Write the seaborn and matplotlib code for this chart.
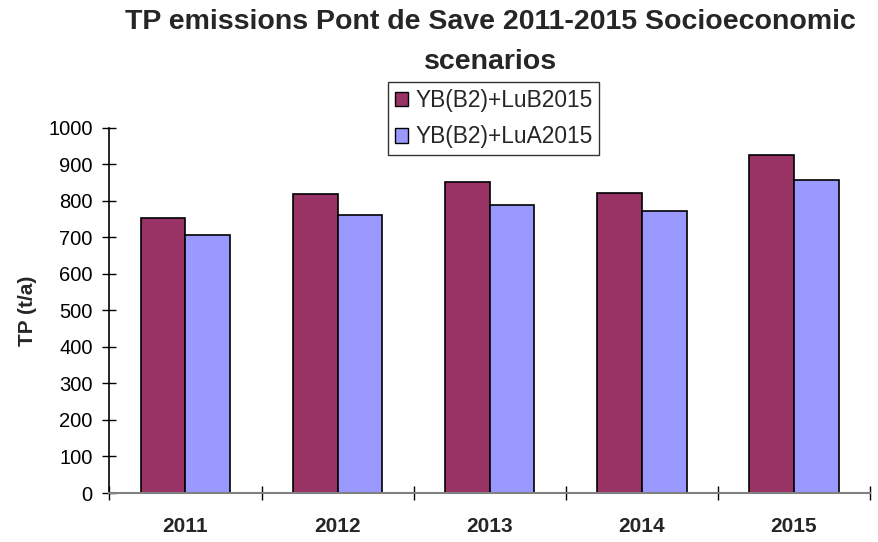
import matplotlib
matplotlib.use("Agg")
import matplotlib.pyplot as plt
import seaborn as sns
import pandas as pd
import numpy as np
from matplotlib.ticker import FixedLocator, NullFormatter

years = ["2011", "2012", "2013", "2014", "2015"]
series_names = ["YB(B2)+LuB2015", "YB(B2)+LuA2015"]
lub2015 = [753, 818, 851, 823, 925]
lua2015 = [706, 762, 790, 773, 856]
y_ticks = [0, 100, 200, 300, 400, 500, 600, 700, 800, 900, 1000]

df = pd.DataFrame({
    "year": years * 2,
    "TP": lub2015 + lua2015,
    "scenario": [series_names[0]] * len(years) + [series_names[1]] * len(years),
})

sns.set_theme(style="white")
plt.rcParams["font.family"] = ["Liberation Sans", "DejaVu Sans"]

fig = plt.figure(figsize=(8.79, 5.42), dpi=100)
ax = fig.add_axes([0.1245, 0.0904, 0.865, 0.6736])

sns.barplot(data=df, x="year", y="TP", hue="scenario", order=years,
            hue_order=series_names, palette=["#993366", "#9999FF"],
            width=0.59, edgecolor="black", linewidth=1.2, saturation=1,
            ax=ax, legend=True)

ax.set_ylim(0, 1000)
ax.set_xlim(-0.5, len(years) - 0.5)
ax.set_yticks(y_ticks)
ax.tick_params(axis="y", direction="inout", length=10, width=1, colors="black",
               labelsize=14.5, pad=7, left=True)

# category boundary ticks on the x axis, labels centred under each group
ax.xaxis.set_major_locator(FixedLocator(np.arange(-0.5, len(years), 1.0)))
ax.xaxis.set_major_formatter(NullFormatter())
ax.xaxis.set_minor_locator(FixedLocator(np.arange(len(years))))
ax.set_xticklabels(years, minor=True, fontweight="bold", fontsize=15)
ax.tick_params(axis="x", which="major", direction="inout", length=10,
               width=1, color="black", bottom=True)
ax.tick_params(axis="x", which="minor", length=0, pad=17, labelsize=15)

for side in ["top", "right"]:
    ax.spines[side].set_visible(False)
ax.spines["left"].set_color("black")
ax.spines["left"].set_linewidth(1.2)
ax.spines["bottom"].set_color("#808080")
ax.spines["bottom"].set_linewidth(1.5)

ax.set_xlabel("")
ax.set_ylabel("TP (t/a)", fontsize=15, fontweight="bold", labelpad=8)

ax.get_legend().remove()
handles = [plt.Rectangle((0, 0), 1, 1, facecolor=c, edgecolor="black", linewidth=1)
           for c in ["#993366", "#9999FF"]]
leg = fig.legend(handles, series_names, loc="upper left",
                 bbox_to_anchor=(388 / 879, 1 - 82 / 542), frameon=True,
                 fontsize=16.4, handlelength=0.6, handleheight=0.6,
                 handletextpad=0.3, borderpad=0.3, labelspacing=0.6,
                 fancybox=False, borderaxespad=0)
leg.get_frame().set_edgecolor("black")
leg.get_frame().set_linewidth(1)

fig.text(0.5575, 1 - 42 / 542,
         "TP emissions Pont de Save 2011-2015 Socioeconomic\nscenarios",
         ha="center", va="center", fontsize=20.5, fontweight="bold",
         linespacing=1.68)

fig.savefig("out.png", dpi=100, facecolor="white")
